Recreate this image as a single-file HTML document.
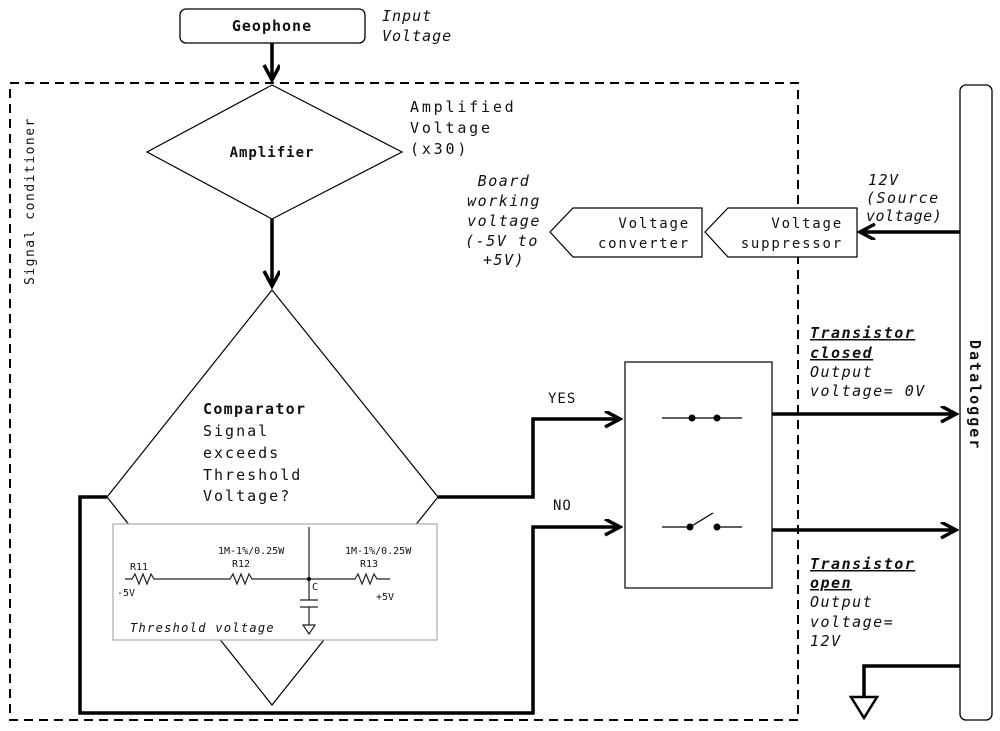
<!DOCTYPE html>
<html><head><meta charset="utf-8"><style>
html,body{margin:0;padding:0;background:#fff;}
svg{display:block;}
text{font-family:"DejaVu Sans Mono","Liberation Mono",monospace;fill:#111;}
.it{font-style:italic;}
.b{font-weight:bold;}
</style></head><body>
<svg width="1000" height="731" viewBox="0 0 1000 731" xmlns="http://www.w3.org/2000/svg">
<defs>
<marker id="ah2" markerWidth="20" markerHeight="20" refX="17" refY="8" orient="auto" markerUnits="userSpaceOnUse">
<path d="M2,0 L17,8 L2,16" fill="none" stroke="#000" stroke-width="3.5"/>
</marker>
</defs>
<rect x="10" y="83" width="788" height="637" fill="none" stroke="#000" stroke-width="2" stroke-dasharray="9,6"/>
<text x="34" y="285" font-size="13" transform="rotate(-90 34 285)" letter-spacing="1.5">Signal conditioner</text>

<rect x="180" y="9" width="185" height="34" rx="6" fill="#fff" stroke="#000" stroke-width="1.3"/>
<text x="272" y="31" font-size="15" class="b" text-anchor="middle" letter-spacing="1">Geophone</text>
<text x="382" y="21" font-size="15" class="it" letter-spacing="1">Input</text>
<text x="382" y="41" font-size="15" class="it" letter-spacing="1">Voltage</text>
<line x1="272" y1="43" x2="272" y2="80" stroke="#000" stroke-width="3.5" marker-end="url(#ah2)"/>

<polygon points="272,85 402,152 272,219 147,152" fill="#fff" stroke="#000" stroke-width="1.2"/>
<text x="272" y="157" font-size="14" class="b" text-anchor="middle" letter-spacing="1">Amplifier</text>
<text x="410" y="112" font-size="15" letter-spacing="2.8">Amplified</text>
<text x="410" y="133" font-size="15" letter-spacing="2.8">Voltage</text>
<text x="410" y="154" font-size="15" letter-spacing="2.8">(x30)</text>
<line x1="272" y1="219" x2="272" y2="286" stroke="#000" stroke-width="3.5" marker-end="url(#ah2)"/>

<polygon points="272,290 438,497 272,705 107,497" fill="#fff" stroke="#000" stroke-width="1.2"/>
<text x="203" y="414" font-size="15" class="b" letter-spacing="1.3">Comparator</text>
<text x="203" y="436" font-size="15" letter-spacing="2">Signal</text>
<text x="203" y="458" font-size="15" letter-spacing="2">exceeds</text>
<text x="203" y="480" font-size="15" letter-spacing="2">Threshold</text>
<text x="203" y="501" font-size="15" letter-spacing="2">Voltage?</text>

<rect x="113" y="524" width="324" height="116" fill="#fff" stroke="#aaa" stroke-width="1.2"/>
<g stroke="#222" stroke-width="1.2" fill="none">
<path d="M125,579 L132,579 L135,574 L139,584 L143,574 L147,584 L151,574 L154,579 L230,579 L233,574 L237,584 L241,574 L245,584 L249,574 L252,579 L355,579 L358,574 L362,584 L366,574 L370,584 L374,574 L377,579 L390,579"/>
<line x1="309" y1="527" x2="309" y2="600"/>
<line x1="300" y1="600" x2="318" y2="600"/>
<line x1="300" y1="607" x2="318" y2="607"/>
<line x1="309" y1="607" x2="309" y2="625"/>
<polygon points="303,625 315,625 309,634"/>
</g>
<circle cx="309" cy="579" r="2" fill="#000"/>
<text x="130" y="570" font-size="10">R11</text>
<text x="117" y="596" font-size="10">-5V</text>
<text x="218" y="554" font-size="10">1M-1%/0.25W</text>
<text x="232" y="567" font-size="10">R12</text>
<text x="312" y="590" font-size="10">C</text>
<text x="345" y="554" font-size="10">1M-1%/0.25W</text>
<text x="360" y="567" font-size="10">R13</text>
<text x="376" y="600" font-size="10">+5V</text>
<text x="130" y="632" font-size="12" class="it" letter-spacing="1.3">Threshold voltage</text>

<polyline points="438,497 533,497 533,419 620,419" fill="none" stroke="#000" stroke-width="3.5" marker-end="url(#ah2)"/>
<polyline points="107,497 80,497 80,713 533,713 533,527 620,527" fill="none" stroke="#000" stroke-width="3.5" marker-end="url(#ah2)"/>
<text x="548" y="403" font-size="14" letter-spacing="1">YES</text>
<text x="553" y="510" font-size="14" letter-spacing="1">NO</text>

<rect x="625" y="362" width="147" height="226" fill="#fff" stroke="#000" stroke-width="1.2"/>
<line x1="662" y1="418" x2="742" y2="418" stroke="#000" stroke-width="1.3"/>
<circle cx="692" cy="418" r="3.5" fill="#000"/>
<circle cx="717" cy="418" r="3.5" fill="#000"/>
<polyline points="662,527 690,527 713,513" fill="none" stroke="#000" stroke-width="1.3"/>
<line x1="717" y1="527" x2="742" y2="527" stroke="#000" stroke-width="1.3"/>
<circle cx="690" cy="527" r="3.5" fill="#000"/>
<circle cx="717" cy="527" r="3.5" fill="#000"/>

<line x1="772" y1="414" x2="956" y2="414" stroke="#000" stroke-width="3.5" marker-end="url(#ah2)"/>
<line x1="772" y1="530" x2="956" y2="530" stroke="#000" stroke-width="3.5" marker-end="url(#ah2)"/>

<text x="810" y="338" font-size="15" class="it b" letter-spacing="1.5" text-decoration="underline">Transistor</text>
<text x="810" y="358" font-size="15" class="it b" letter-spacing="1.5" text-decoration="underline">closed</text>
<text x="810" y="377" font-size="15" class="it" letter-spacing="1.5">Output</text>
<text x="810" y="396" font-size="15" class="it" letter-spacing="1.5">voltage= 0V</text>
<text x="810" y="569" font-size="15" class="it b" letter-spacing="1.5" text-decoration="underline">Transistor</text>
<text x="810" y="588" font-size="15" class="it b" letter-spacing="1.5" text-decoration="underline">open</text>
<text x="810" y="607" font-size="15" class="it" letter-spacing="1.5">Output</text>
<text x="810" y="627" font-size="15" class="it" letter-spacing="1.5">voltage=</text>
<text x="810" y="646" font-size="15" class="it" letter-spacing="1.5">12V</text>

<rect x="960" y="85" width="32" height="635" rx="6" fill="#fff" stroke="#000" stroke-width="1.3"/>
<text x="970" y="340" font-size="15" class="b" transform="rotate(90 970 340)" letter-spacing="2">Datalogger</text>

<polyline points="960,666 864,666 864,696" fill="none" stroke="#000" stroke-width="3.5"/>
<polygon points="851,697 877,697 864,718" fill="#fff" stroke="#000" stroke-width="2.5"/>

<line x1="960" y1="232" x2="860" y2="232" stroke="#000" stroke-width="3.5" marker-end="url(#ah2)"/>
<polygon points="728,208 857,208 857,257 728,257 705,232" fill="#fff" stroke="#000" stroke-width="1.2"/>
<text x="843" y="228" font-size="14" text-anchor="end" letter-spacing="1.8">Voltage</text>
<text x="843" y="248" font-size="14" text-anchor="end" letter-spacing="1.8">suppressor</text>
<polygon points="573,208 702,208 702,257 573,257 550,232" fill="#fff" stroke="#000" stroke-width="1.2"/>
<text x="690" y="228" font-size="14" text-anchor="end" letter-spacing="1.8">Voltage</text>
<text x="690" y="248" font-size="14" text-anchor="end" letter-spacing="1.8">converter</text>
<text x="504" y="186" font-size="15" class="it" text-anchor="middle" letter-spacing="1.5">Board</text>
<text x="504" y="206" font-size="15" class="it" text-anchor="middle" letter-spacing="1.5">working</text>
<text x="504" y="226" font-size="15" class="it" text-anchor="middle" letter-spacing="1.5">voltage</text>
<text x="502" y="246" font-size="15" class="it" text-anchor="middle" letter-spacing="1.5">(-5V to</text>
<text x="504" y="265" font-size="15" class="it" text-anchor="middle" letter-spacing="1.5">+5V)</text>
<text x="868" y="185" font-size="15" class="it" letter-spacing="1.5">12V</text>
<text x="866" y="203" font-size="15" class="it" letter-spacing="1.5">(Source</text>
<text x="866" y="221" font-size="15" class="it" letter-spacing="0.5">voltage)</text>
</svg>
</body></html>
